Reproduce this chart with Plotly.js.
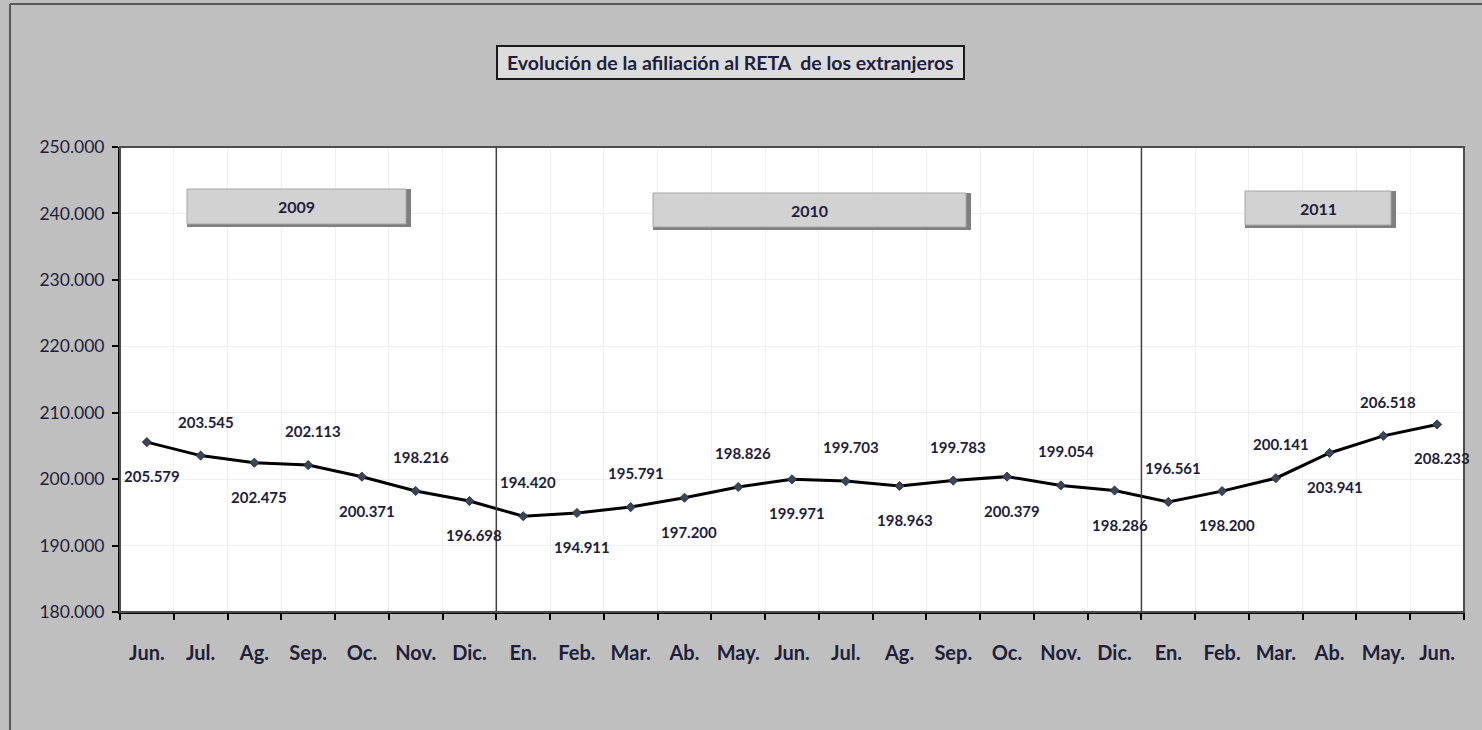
<!DOCTYPE html>
<html>
<head>
<meta charset="utf-8">
<script src="https://cdn.plot.ly/plotly-3.0.1.min.js"></script>
<style>html,body{margin:0;padding:0;background:#BFBFBF;}#chart{width:1482px;height:730px;}</style>
</head>
<body>
<div id="chart"></div>
<script>
// ---- data ----
const months = ["Jun.","Jul.","Ag.","Sep.","Oc.","Nov.","Dic.",
  "En.","Feb.","Mar.","Ab.","May.","Jun.","Jul.","Ag.","Sep.","Oc.","Nov.","Dic.",
  "En.","Feb.","Mar.","Ab.","May.","Jun."];
const years = ["2009","2009","2009","2009","2009","2009","2009",
  "2010","2010","2010","2010","2010","2010","2010","2010","2010","2010","2010","2010",
  "2011","2011","2011","2011","2011","2011"];
const afiliados = [205579,203545,202475,202113,200371,198216,196698,
  194420,194911,195791,197200,198826,199971,199703,198963,199783,200379,199054,198286,
  196561,198200,200141,203941,206518,208233];
const yearLabels = ["2009","2010","2011"];
const titleText = "Evolución de la afiliación al RETA  de los extranjeros";

// ---- layout helpers (pixel -> paper) ----
const L = 120, R = 1464, T = 147, B = 612;
const W = R - L, H = B - T;
const xp = px => (px - L) / W;
const yp = py => (B - py) / H;
const FONT = 'Lato, sans-serif';
const TXT = '#1E1E3C';

const idx = months.map((m, i) => i);

const trace = {
  x: idx, y: afiliados, type: 'scatter', mode: 'lines+markers',
  line: {color: '#000000', width: 3},
  marker: {symbol: 'diamond', size: 7, color: '#3A4658', line: {color: '#2A3444', width: 1}},
  hoverinfo: 'skip', cliponaxis: false
};

const fmt = v => Math.round(v).toString().replace(/\B(?=(\d{3})+(?!\d))/g, '.');
const annotations = afiliados.map((v, i) => ({
  x: i, y: v, xref: 'x', yref: 'y',
  text: '<b>' + fmt(v) + '</b>',
  showarrow: false,
  xshift: 5,
  yshift: (i % 2 === 0) ? -34 : 34,
  font: {family: FONT, size: 15, color: TXT}
}));

// year boxes (pixel boxes from reference)
const yearBoxes = [[187, 189, 411, 227], [653, 193, 971, 230], [1245, 191, 1396, 228]];
const shapes = [];
// outer chart border (left & top)
shapes.push({type: 'line', xref: 'paper', yref: 'paper', x0: xp(10), x1: xp(10), y0: yp(4), y1: yp(740), line: {color: '#595959', width: 2}});
shapes.push({type: 'line', xref: 'paper', yref: 'paper', x0: xp(10), x1: xp(1490), y0: yp(4), y1: yp(4), line: {color: '#595959', width: 2}});
// year separators
[6.5, 18.5].forEach(xv => shapes.push({type: 'line', xref: 'x', yref: 'paper', x0: xv, x1: xv, y0: 0, y1: 1, line: {color: '#404040', width: 1.5}}));
yearBoxes.forEach((b, k) => {
  shapes.push({type: 'rect', xref: 'paper', yref: 'paper', x0: xp(b[0]), x1: xp(b[2]), y0: yp(b[3]), y1: yp(b[1]), fillcolor: '#7F7F7F', line: {width: 0}});
  shapes.push({type: 'rect', xref: 'paper', yref: 'paper', x0: xp(b[0]), x1: xp(b[2] - 5), y0: yp(b[3] - 3), y1: yp(b[1]), fillcolor: '#D2D2D2', line: {color: '#A6A6A6', width: 1}});
  annotations.push({xref: 'paper', yref: 'paper', x: xp((b[0] + b[2] - 5) / 2), y: yp((b[1] + b[3] - 3) / 2),
    text: '<b>' + yearLabels[k] + '</b>', showarrow: false, xanchor: 'center', yanchor: 'middle',
    font: {family: FONT, size: 16, color: TXT}});
});
// title box
shapes.push({type: 'rect', xref: 'paper', yref: 'paper', x0: xp(497), x1: xp(964), y0: yp(79), y1: yp(46), fillcolor: '#DCDCDC', line: {color: '#1A1A1A', width: 2}});
annotations.push({xref: 'paper', yref: 'paper', x: xp(730.5), y: yp(63), text: '<b>' + titleText + '</b>', showarrow: false,
  xanchor: 'center', yanchor: 'middle', font: {family: FONT, size: 19.5, color: TXT}});
// plot frame
shapes.push({type: 'rect', xref: 'paper', yref: 'paper', x0: 0, x1: 1, y0: 0, y1: 1, line: {color: '#4D4D4D', width: 2}, layer: 'above'});

const layout = {
  width: 1482, height: 730,
  margin: {l: L, r: 1482 - R, t: T, b: 730 - B, pad: 0},
  paper_bgcolor: '#BFBFBF', plot_bgcolor: '#FFFFFF',
  separators: ',.',
  showlegend: false,
  xaxis: {
    type: 'linear', range: [-0.5, 24.5], tickmode: 'array', tickvals: idx, ticktext: months.map(m => '<b>' + m + '</b>'),
    showgrid: false, zeroline: false,
    showline: true, linecolor: '#000000', linewidth: 2, mirror: false,
    ticks: '', ticklabelstandoff: 22,
    tickfont: {family: FONT, size: 20, color: TXT},
    fixedrange: true
  },
  xaxis2: {
    overlaying: 'x', matching: 'x', range: [-0.5, 24.5], tickmode: 'linear', tick0: -0.5, dtick: 1,
    ticks: 'outside', ticklen: 7, tickwidth: 2, tickcolor: '#000000', showticklabels: false,
    showgrid: true, gridcolor: '#EFEFEF', gridwidth: 1, zeroline: false, showline: false, anchor: 'y'
  },
  yaxis: {
    range: [180000, 250000], tickmode: 'linear', tick0: 180000, dtick: 10000, tickformat: ',.0f',
    showgrid: true, gridcolor: '#EFEFEF', zeroline: false,
    showline: true, linecolor: '#000000', linewidth: 2,
    ticks: 'outside', ticklen: 6, tickwidth: 2, tickcolor: '#000000', ticklabelstandoff: 4,
    tickfont: {family: FONT, size: 17.5, color: TXT},
    fixedrange: true
  },
  shapes: shapes,
  annotations: annotations
};

// invisible trace to draw the boundary ticks/grid on xaxis2
const dummy = {x: [0], y: [null], xaxis: 'x2', yaxis: 'y', type: 'scatter', mode: 'markers', hoverinfo: 'skip', showlegend: false};

Plotly.newPlot('chart', [dummy, trace], layout, {staticPlot: true});
</script>
</body>
</html>
